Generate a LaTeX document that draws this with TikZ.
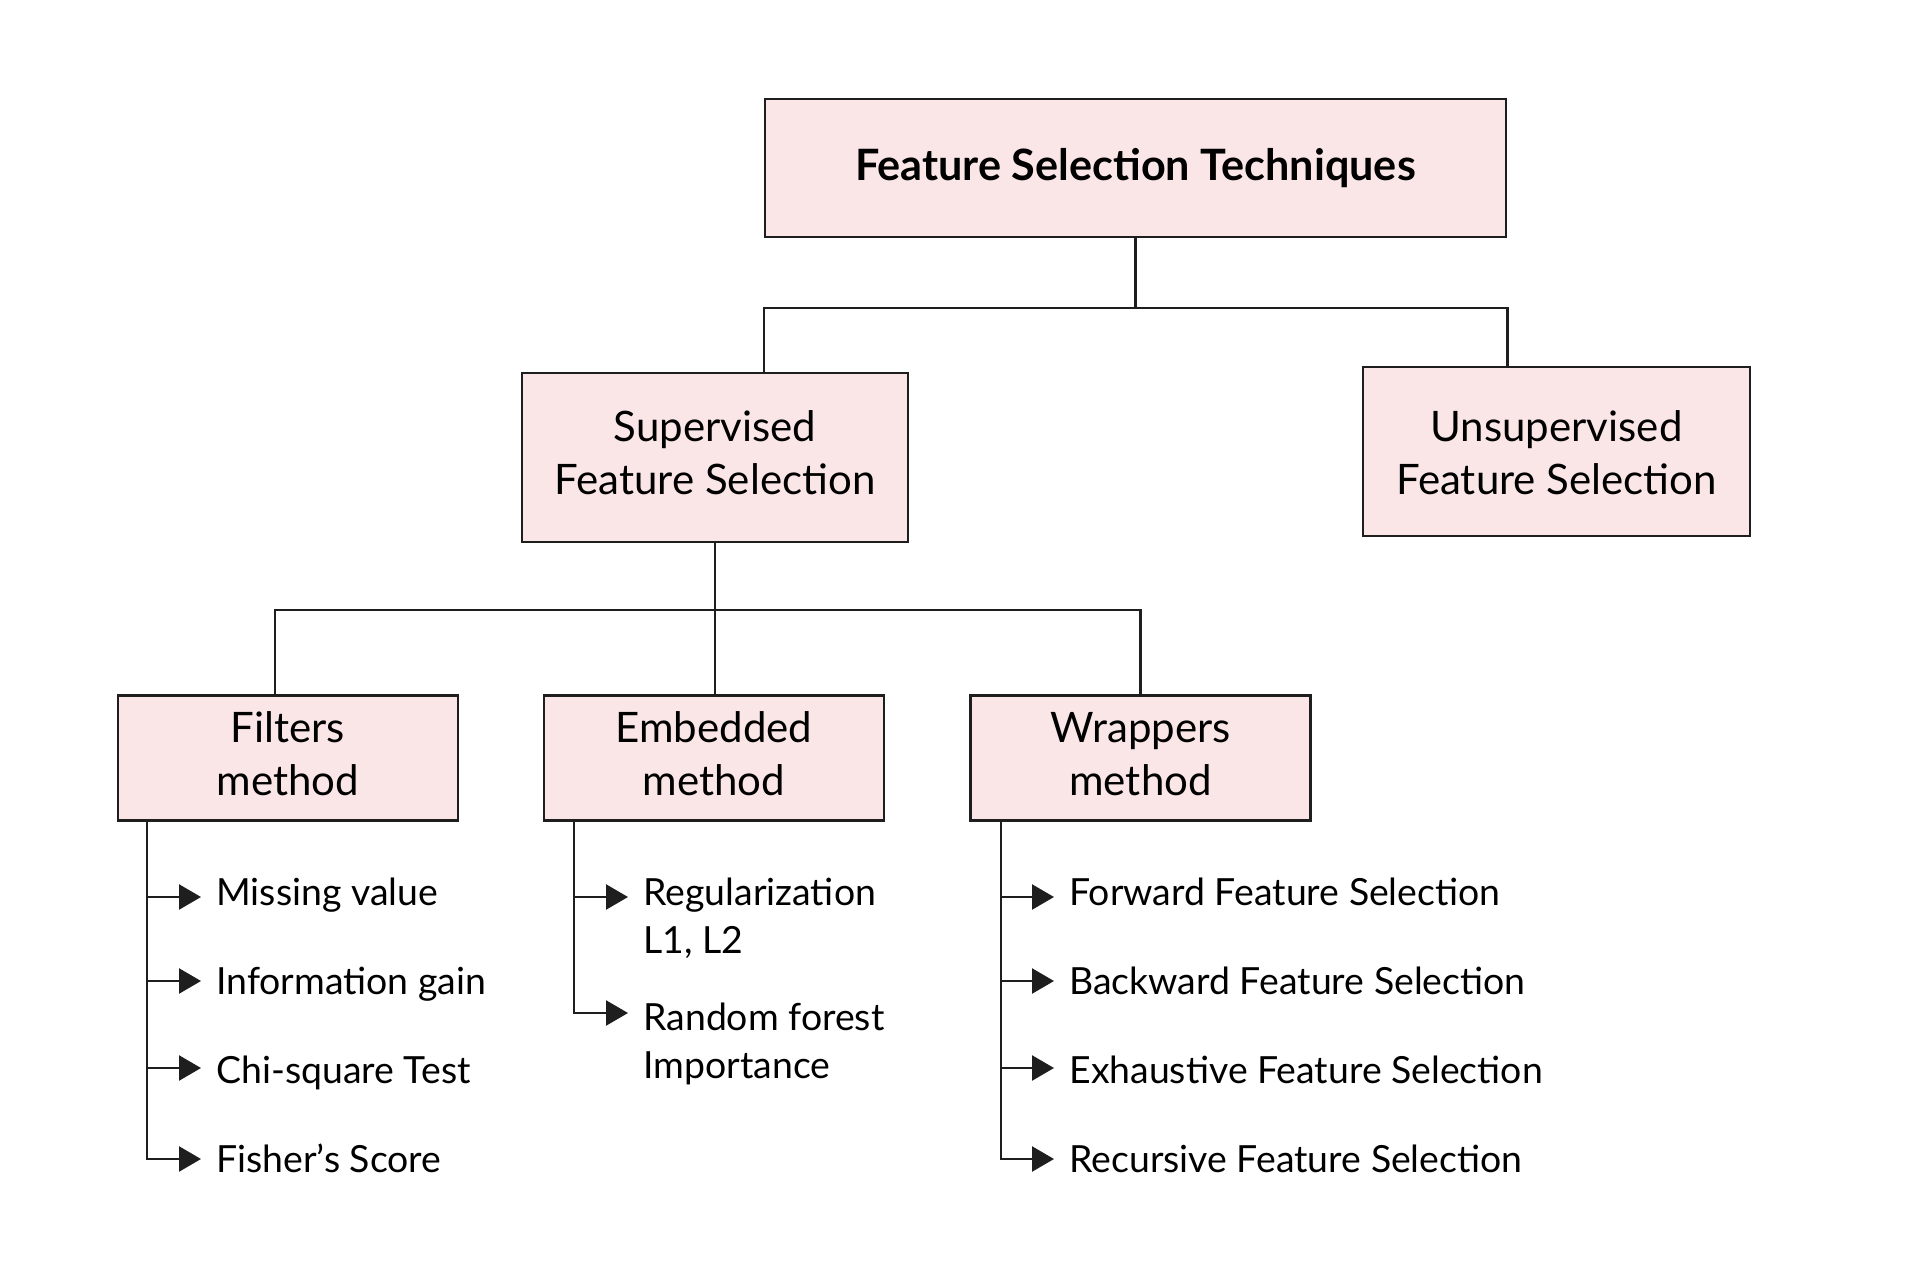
\documentclass[tikz,border=0pt]{standalone}
\usepackage{fontspec}
\setmainfont{Lato}
\usetikzlibrary{arrows.meta}
\definecolor{boxpink}{HTML}{FAE6E7}
\definecolor{lineclr}{HTML}{1E1E1E}
\newcommand{\boxtext}[1]{\begin{tabular}{@{}c@{}}#1\end{tabular}}
\newcommand{\twoline}[1]{\begin{tabular}[t]{@{}l@{}}#1\end{tabular}}
\begin{document}
\begin{tikzpicture}[x=0.5pt,y=-0.5pt,
  box/.style={draw=lineclr, line width=1.3pt, fill=boxpink, inner sep=0pt,
              font=\fontsize{21}{26.5}\selectfont},
  item/.style={anchor=west, inner xsep=7.5pt, inner ysep=0pt, text height=17.9pt, text depth=4.5pt,
              font=\fontsize{18.7}{24}\selectfont},
  conn/.style={line width=1.2pt, draw=lineclr},
  arr/.style={conn, -{Triangle[length=11pt,width=12.5pt]}}]
\useasboundingbox (0,0) rectangle (1926,1284);

% boxes
\node[box, minimum width=370.5pt, minimum height=69pt, font=\bfseries\fontsize{21.6}{26.5}\selectfont] (top) at (1135.5,168) {Feature Selection Techniques};
\node[box, minimum width=193pt, minimum height=84.5pt] (sup) at (715,457.5) {\boxtext{Supervised\\Feature Selection}};
\node[box, minimum width=193.5pt, minimum height=84.5pt] (unsup) at (1556.5,451.5) {\boxtext{\rule{0pt}{24.5pt}Unsupervised\\Feature Selection}};
\node[box, minimum width=170pt, minimum height=62.5pt] (filt) at (288,758) {\boxtext{Filters\\method}};
\node[box, minimum width=170pt, minimum height=62.5pt] (emb) at (714,758) {\boxtext{Embedded\\method}};
\node[box, minimum width=170pt, minimum height=62.5pt] (wrap) at (1140.5,758) {\boxtext{Wrappers\\method}};

% top connectors
\coordinate (j1) at (1135.5,308);
\draw[conn] (top.south) -- (j1);
\draw[conn] (sup.north -| top.south west) |- (j1) -| (unsup.north -| top.south east);

\coordinate (j2) at (715,610);
\draw[conn] (sup.south) -- (sup.south |- emb.north);
\draw[conn] ([xshift=-6.5pt]filt.north) |- (j2) -| (wrap.north);

% list items
\node[item] (m1) at (201,892.5) {Missing value};
\node[item] (m2) at (201,981) {Information gain};
\node[item] (m3) at (201,1070) {Chi-square Test};
\node[item] (m4) at (201,1159) {Fisher’s Score};

\node[item] (e1) at (628,892.5) {\twoline{Regularization\\L1, L2}};
\node[item] (e2) at (628,1017) {\twoline{Random forest\\Importance}};

\node[item] (w1) at (1054,892.5) {Forward Feature Selection};
\node[item] (w2) at (1054,981) {Backward Feature Selection};
\node[item] (w3) at (1054,1070) {Exhaustive Feature Selection};
\node[item] (w4) at (1054,1159) {Recursive Feature Selection};

% list connectors
\coordinate (fl) at (147,0);
\coordinate (el) at (574,0);
\coordinate (wl) at (1001,0);

\draw[arr] (filt.south -| fl) |- (m4.west);
\draw[arr] ([yshift=-2.25pt]m1.west -| fl) -- ([yshift=-2.25pt]m1.west);
\draw[arr] (m2.west -| fl) -- (m2.west);
\draw[arr] ([yshift=1pt]m3.west -| fl) -- ([yshift=1pt]m3.west);

\draw[arr] (emb.south -| el) |- ([yshift=2pt]e2.west);
\draw[arr] ([yshift=-2.25pt]e1.west -| el) -- ([yshift=-2.25pt]e1.west);

\draw[arr] (wrap.south -| wl) |- (w4.west);
\draw[arr] ([yshift=-2.25pt]w1.west -| wl) -- ([yshift=-2.25pt]w1.west);
\draw[arr] (w2.west -| wl) -- (w2.west);
\draw[arr] ([yshift=1pt]w3.west -| wl) -- ([yshift=1pt]w3.west);
\end{tikzpicture}
\end{document}
